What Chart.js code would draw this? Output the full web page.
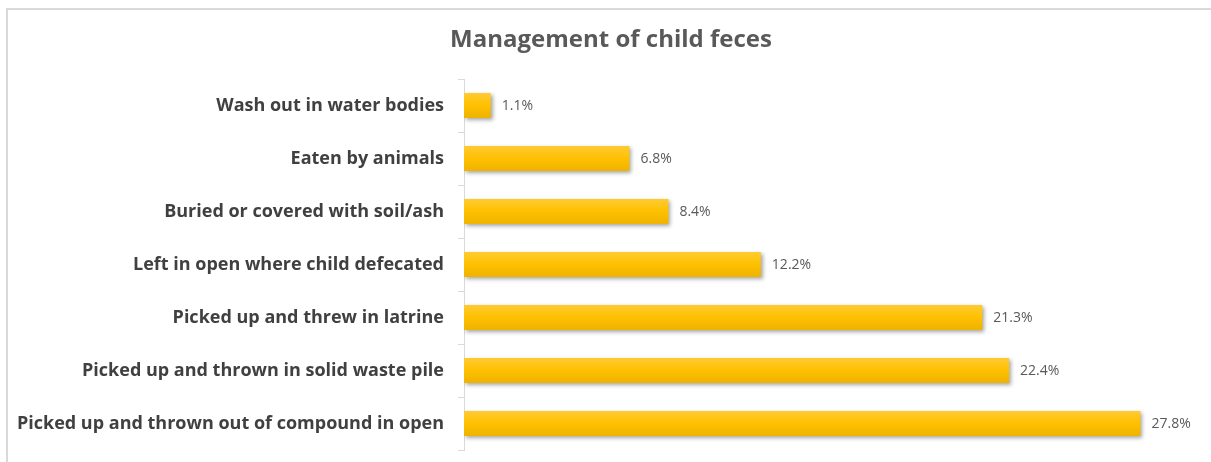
<!DOCTYPE html>
<html lang="en">
<head>
    <meta charset="UTF-8">
    <title>Management of child feces</title>
    <script src="https://cdn.jsdelivr.net/npm/chart.js"></script>
    <style>
        body {
            margin: 0;
            padding: 0;
            background: #ffffff;
            overflow: hidden;
        }
        .frame {
            position: absolute;
            left: 6px;
            top: 8px;
            width: 1260px;
            height: 500px;
            border: 2px solid #d9d9d9;
        }
        .wrap {
            position: absolute;
            left: 0;
            top: 0;
            width: 1222px;
            height: 462px;
        }
    </style>
</head>
<body>
    <div class="frame"></div>
    <div class="wrap">
        <canvas id="fecesChart"></canvas>
    </div>
    <script>
        const chartTitle = 'Management of child feces';
        const categories = [
            'Wash out in water bodies',
            'Eaten by animals',
            'Buried or covered with soil/ash',
            'Left in open where child defecated',
            'Picked up and threw in latrine',
            'Picked up and thrown in solid waste pile',
            'Picked up and thrown out of compound in open'
        ];
        const percentages = [1.1, 6.8, 8.4, 12.2, 21.3, 22.4, 27.8];
        const axisMax = 30;

        const labelFont = "'Open Sans', 'Liberation Sans', sans-serif";

        // golden bar, slightly lighter at the top edge
        function barFill(ctx) {
            const chart = ctx.chart;
            const y = chart.scales.y;
            if (!y || ctx.dataIndex === undefined) return '#ffc000';
            const mid = y.getPixelForValue(ctx.dataIndex);
            if (!isFinite(mid)) return '#ffc000';
            const half = 13;
            const g = chart.ctx.createLinearGradient(0, mid - half, 0, mid + half);
            g.addColorStop(0, '#ffcb33');
            g.addColorStop(0.5, '#ffc000');
            g.addColorStop(1, '#eeb200');
            return g;
        }

        // soft drop shadow under the bars
        const barShadow = {
            id: 'barShadow',
            beforeDatasetDraw(chart) {
                const c = chart.ctx;
                c.save();
                c.shadowColor = 'rgba(0, 0, 0, 0.35)';
                c.shadowBlur = 4;
                c.shadowOffsetX = 2;
                c.shadowOffsetY = 2;
            },
            afterDatasetDraw(chart) {
                chart.ctx.restore();
            }
        };

        // value labels to the right of each bar
        const valueLabels = {
            id: 'valueLabels',
            afterDatasetsDraw(chart) {
                const c = chart.ctx;
                const meta = chart.getDatasetMeta(0);
                c.save();
                c.font = '14px ' + labelFont;
                c.fillStyle = '#595959';
                c.textAlign = 'left';
                c.textBaseline = 'middle';
                meta.data.forEach((bar, i) => {
                    c.fillText(percentages[i].toFixed(1) + '%', bar.x + 11, bar.y + 1);
                });
                c.restore();
            }
        };

        // title centred on the whole chart box, not just the padded area
        const centeredTitle = {
            id: 'centeredTitle',
            afterDraw(chart) {
                const c = chart.ctx;
                c.save();
                c.font = 'bold 24px ' + labelFont;
                c.fillStyle = '#595959';
                c.textAlign = 'center';
                c.textBaseline = 'middle';
                c.fillText(chartTitle, chart.width / 2, 40);
                c.restore();
            }
        };

        const ctx = document.getElementById('fecesChart').getContext('2d');
        new Chart(ctx, {
            type: 'bar',
            data: {
                labels: categories,
                datasets: [{
                    data: percentages,
                    backgroundColor: barFill,
                    borderWidth: 0,
                    categoryPercentage: 1,
                    barPercentage: 0.47
                }]
            },
            options: {
                indexAxis: 'y',
                responsive: true,
                maintainAspectRatio: false,
                animation: false,
                layout: {
                    padding: { left: 6, right: 28, top: 79, bottom: 12 }
                },
                plugins: {
                    legend: { display: false },
                    tooltip: { enabled: false },
                    title: { display: false }
                },
                scales: {
                    x: {
                        display: false,
                        min: 0,
                        max: axisMax
                    },
                    y: {
                        afterFit(scale) {
                            scale.width = 458;
                            scale.paddingTop = 0;
                            scale.paddingBottom = 0;
                        },
                        grid: {
                            offset: true,
                            drawOnChartArea: false,
                            tickLength: 6,
                            color: '#d9d9d9'
                        },
                        border: { color: '#d9d9d9', width: 1 },
                        ticks: {
                            color: '#404040',
                            padding: 14,
                            font: { family: labelFont, size: 18, weight: 'bold' }
                        }
                    }
                }
            },
            plugins: [barShadow, valueLabels, centeredTitle]
        });
    </script>
</body>
</html>
